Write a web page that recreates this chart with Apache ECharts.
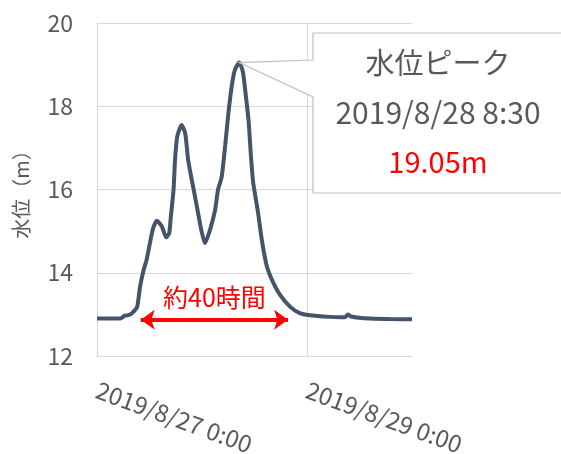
<!DOCTYPE html>
<html>
<head>
<meta charset="utf-8">
<script src="https://cdn.jsdelivr.net/npm/echarts@6/dist/echarts.min.js"></script>
<style>
  html, body { margin: 0; padding: 0; background: #fff; }
  #chart { width: 561px; height: 454px; }
</style>
</head>
<body>
<div id="chart"></div>
<script>
// Water level record, 2019/8/27 0:00 – 2019/8/30 0:00
const startTime = '2019-08-27 00:00';
const times = [
  '2019-08-27 00:00', '2019-08-27 03:00', '2019-08-27 05:20', '2019-08-27 06:20',
  '2019-08-27 07:10', '2019-08-27 08:00', '2019-08-27 09:10', '2019-08-27 09:50',
  '2019-08-27 10:40', '2019-08-27 11:20', '2019-08-27 12:10', '2019-08-27 12:50',
  '2019-08-27 13:40', '2019-08-27 14:50', '2019-08-27 15:50', '2019-08-27 16:30',
  '2019-08-27 16:50', '2019-08-27 17:30', '2019-08-27 17:50', '2019-08-27 18:20',
  '2019-08-27 19:20', '2019-08-27 20:10', '2019-08-27 20:50', '2019-08-27 21:40',
  '2019-08-27 22:50', '2019-08-27 23:50', '2019-08-28 00:40', '2019-08-28 01:50',
  '2019-08-28 03:00', '2019-08-28 03:40', '2019-08-28 04:30', '2019-08-28 05:20',
  '2019-08-28 06:00', '2019-08-28 06:50', '2019-08-28 07:30', '2019-08-28 08:30',
  '2019-08-28 09:20', '2019-08-28 10:00', '2019-08-28 10:40', '2019-08-28 11:10',
  '2019-08-28 11:40', '2019-08-28 12:20', '2019-08-28 12:50', '2019-08-28 13:40',
  '2019-08-28 14:50', '2019-08-28 16:20', '2019-08-28 17:50', '2019-08-28 20:10',
  '2019-08-28 22:20', '2019-08-29 00:40', '2019-08-29 05:20', '2019-08-29 07:30',
  '2019-08-29 08:50', '2019-08-29 09:20', '2019-08-29 10:00', '2019-08-29 14:20',
  '2019-08-29 19:00', '2019-08-30 00:00'
];
const levels = [
  12.90, 12.90, 12.90, 12.97, 12.98, 13.03, 13.18, 13.66,
  14.07, 14.31, 14.75, 15.07, 15.25, 15.11, 14.85, 14.95,
  15.30, 16.00, 16.71, 17.27, 17.55, 17.35, 16.71, 16.23,
  15.59, 15.03, 14.71, 15.03, 15.51, 16.00, 16.30, 17.09,
  17.80, 18.51, 18.87, 19.05, 18.83, 18.27, 17.63, 16.83,
  16.19, 15.75, 15.43, 14.79, 14.15, 13.75, 13.47, 13.18,
  13.03, 12.98, 12.94, 12.93, 12.94, 13.00, 12.95, 12.90,
  12.89, 12.88
];
const yTicks = [12, 14, 16, 18, 20];
const xLabelHours = [0, 48];          // hours after start that carry a date label
const spanStartEnd = ['2019-08-27 10:00', '2019-08-28 19:40'];
const spanLevel = 12.87;
const spanText = '約40時間';

function parseTime(s) {
  const [d, t] = s.split(' ');
  const [y, mo, da] = d.split('-').map(Number);
  const [h, mi] = t.split(':').map(Number);
  return new Date(y, mo - 1, da, h, mi);
}
const t0 = parseTime(startTime).getTime();
const toHours = s => (parseTime(s).getTime() - t0) / 3600000;
function fmtDate(ms) {
  const d = new Date(ms);
  const mm = String(d.getMinutes()).padStart(2, '0');
  return `${d.getFullYear()}/${d.getMonth() + 1}/${d.getDate()} ${d.getHours()}:${mm}`;
}

const seriesData = times.map((t, i) => [toHours(t), levels[i]]);
let peakIdx = 0;
levels.forEach((v, i) => { if (v > levels[peakIdx]) peakIdx = i; });

const FONT = '"Noto Sans CJK JP", "Noto Sans", sans-serif';
const GREY_TEXT = '#595959';
const GRID_LINE = '#d9d9d9';

const chart = echarts.init(document.getElementById('chart'), null, { renderer: 'canvas' });

chart.setOption({
  animation: false,
  backgroundColor: '#ffffff',
  textStyle: { fontFamily: FONT },
  grid: { left: 97, top: 23, right: 149, bottom: 98, containLabel: false, outerBoundsMode: 'none' },
  xAxis: {
    type: 'value',
    min: 0, max: 72, interval: 24,
    axisLine: { show: true, lineStyle: { color: GRID_LINE, width: 1 } },
    axisTick: { show: false },
    splitLine: {
      show: true,
      lineStyle: { color: [GRID_LINE, 'rgba(0,0,0,0)', GRID_LINE, 'rgba(0,0,0,0)'], width: 1 }
    },
    axisLabel: {
      rotate: -20,
      margin: 33,
      fontSize: 24,
      color: GREY_TEXT,
      fontFamily: FONT,
      showMaxLabel: false,
      formatter: v => xLabelHours.includes(v) ? fmtDate(t0 + v * 3600000) : ''
    }
  },
  yAxis: {
    type: 'value',
    min: yTicks[0], max: yTicks[yTicks.length - 1], interval: 2,
    name: '水位（m）',
    nameLocation: 'middle',
    nameGap: 66,
    nameRotate: 90,
    nameTextStyle: { fontSize: 20, color: GREY_TEXT, fontFamily: FONT },
    axisLine: { show: true, lineStyle: { color: GRID_LINE, width: 1 } },
    axisTick: { show: false },
    splitLine: { show: true, lineStyle: { color: GRID_LINE, width: 1 } },
    axisLabel: { margin: 24, fontSize: 23, color: GREY_TEXT, fontFamily: FONT }
  },
  series: [
    {
      type: 'line',
      name: '水位',
      data: seriesData,
      showSymbol: false,
      smooth: 0.2,
      lineStyle: { color: '#44546A', width: 4 },
      z: 3
    },
    {
      // duration arrow with its caption
      type: 'line',
      data: [],
      silent: true,
      z: 4,
      markLine: {
        silent: true,
        symbol: ['arrow', 'arrow'],
        symbolSize: [15, 14],
        lineStyle: { color: '#ff0000', width: 4, type: 'solid' },
        label: {
          show: true,
          position: 'middle',
          formatter: spanText,
          color: '#ff0000',
          fontSize: 25,
          fontFamily: FONT,
          distance: 10
        },
        data: [[
          { coord: [toHours(spanStartEnd[0]), spanLevel] },
          { coord: [toHours(spanStartEnd[1]), spanLevel] }
        ]]
      }
    }
  ]
});

// Peak callout: a box with a wedge pointing at the highest reading
const tip = chart.convertToPixel({ gridIndex: 0 }, seriesData[peakIdx]);
const boxL = 313, boxT = 33, boxR = 600, boxB = 193;
const wedgeTop = 60, wedgeBottom = 97;
const boxCx = 438;
chart.setOption({
  graphic: [
    {
      type: 'polygon',
      z: 10,
      shape: {
        points: [
          [boxL, boxT], [boxR, boxT], [boxR, boxB], [boxL, boxB],
          [boxL, wedgeBottom], [tip[0], tip[1]], [boxL, wedgeTop]
        ]
      },
      style: { fill: '#ffffff', stroke: '#bfbfbf', lineWidth: 1.2 }
    },
    {
      type: 'text', z: 11, x: boxCx, y: 63,
      style: { text: '水位ピーク', font: `29px ${FONT}`, fill: GREY_TEXT, align: 'center', verticalAlign: 'middle' }
    },
    {
      type: 'text', z: 11, x: boxCx, y: 113,
      style: { text: fmtDate(parseTime(times[peakIdx]).getTime()), font: `30px ${FONT}`, fill: GREY_TEXT, align: 'center', verticalAlign: 'middle' }
    },
    {
      type: 'text', z: 11, x: boxCx, y: 162,
      style: { text: levels[peakIdx].toFixed(2) + 'm', font: `29px ${FONT}`, fill: '#ff0000', align: 'center', verticalAlign: 'middle' }
    }
  ]
});
</script>
</body>
</html>
